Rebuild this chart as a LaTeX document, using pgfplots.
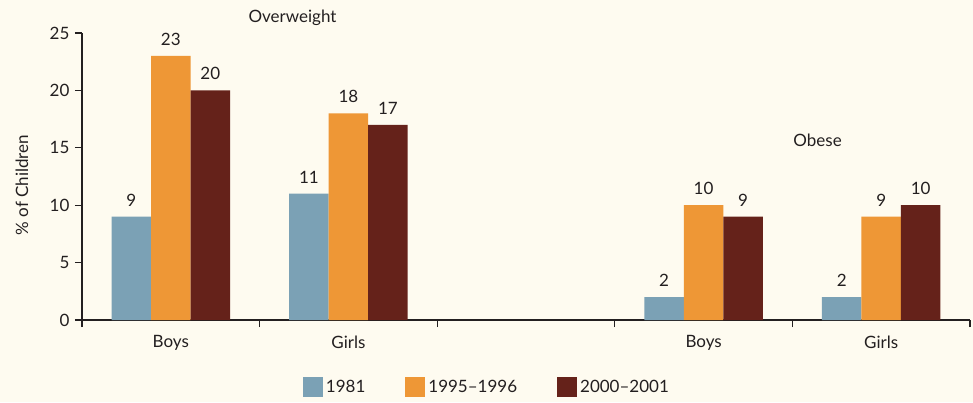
\documentclass[border=0pt]{standalone}
\usepackage{fontspec}
\setmainfont{Lato}
\usepackage{pgfplots}
\pgfplotsset{compat=1.18}
\definecolor{bg}{HTML}{FEFBF0}
\definecolor{cblue}{HTML}{7BA1B5}
\definecolor{corange}{HTML}{EE9736}
\definecolor{cred}{HTML}{65221A}
\definecolor{txt}{HTML}{231F20}
\begin{document}
\begin{tikzpicture}[x=1pt,y=1pt]
\fill[bg] (0,0) rectangle (973,402);
\useasboundingbox (0,0) rectangle (973,402);
\begin{axis}[
  at={(82pt,82pt)}, anchor=south west,
  scale only axis, width=888pt, height=287pt,
  xmin=-0.5, xmax=4.5, ymin=0, ymax=25,
  axis x line=bottom, axis y line=left,
  axis line style={-, line width=1.3pt, color=txt},
  tick align=outside,
  ybar=0pt, bar width=39.5pt,
  clip=false,
  font=\fontsize{17}{20}\selectfont,
  /pgf/number format/assume math mode=true,
  ytick={0,5,10,15,20,25},
  tick style={line width=1.1pt, color=txt},
  major tick length=7pt,
  yticklabel style={text=txt, xshift=-2pt},
  xtick={-0.5,0.5,1.5,2.5,3.5,4.5},
  xticklabels={},
  extra x ticks={0,1,3,4},
  extra x tick labels={Boys,Girls,Boys,Girls},
  extra x tick style={major tick length=0pt, tick style={draw=none},
     xticklabel style={text=txt, yshift=-12pt}},
  ylabel={\% of Children},
  ylabel style={at={(axis description cs:-0.0676,0.47)}, anchor=center, rotate=0, text=txt},
  nodes near coords,
  every node near coord/.append style={text=txt, yshift=7pt, font=\fontsize{17}{20}\selectfont},
  legend columns=3,
  legend style={draw=none, fill=none, at={(axis description cs:0.456,-0.233)}, anchor=center,
    font=\fontsize{17}{20}\selectfont, text=txt,
    /tikz/every even column/.append style={column sep=38pt},
    /tikz/every odd column/.append style={column sep=1pt}},
  legend image code/.code={\fill[#1,draw=none] (0pt,-10pt) rectangle (20pt,10pt);},
]
\addplot[fill=cblue, draw=none, bar shift=-39.5pt] coordinates {(0,9) (1,11) (3,2) (4,2)};
\addplot[fill=corange, draw=none, bar shift=0pt] coordinates {(0,23) (1,18) (3,10) (4,9)};
\addplot[fill=cred, draw=none, bar shift=39.5pt] coordinates {(0,20) (1,17) (3,9) (4,10)};
\legend{1981,1995--1996,2000--2001}
\node[anchor=west, text=txt, font=\fontsize{17}{20}\selectfont] at (axis cs:0.418,26.3) {Overweight};
\node[anchor=west, text=txt, font=\fontsize{17}{20}\selectfont] at (axis cs:3.486,15.68) {Obese};
\end{axis}
\end{tikzpicture}
\end{document}
